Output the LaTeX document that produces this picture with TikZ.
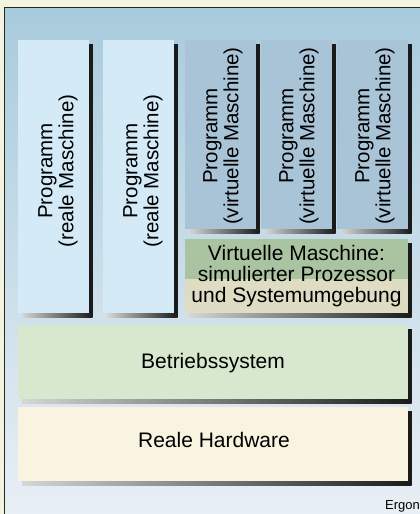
\documentclass[tikz,border=0pt]{standalone}
\usepackage{fontspec}
\setmainfont{Liberation Sans}
\usetikzlibrary{calc}

\definecolor{paper}{HTML}{F3F3E0}
\definecolor{frametop}{HTML}{A8CBDC}
\definecolor{framebottom}{HTML}{E8EFF5}
\definecolor{frameline}{HTML}{262626}
\definecolor{realprog}{HTML}{D4EAF7}
\definecolor{virtprog}{HTML}{A9C4D7}
\definecolor{vmgreen}{HTML}{AAC4A1}
\definecolor{vmbeige}{HTML}{DEDCC3}
\definecolor{ossys}{HTML}{D7E8CF}
\definecolor{hardware}{HTML}{F9F4DF}
\definecolor{shadowdark}{HTML}{1A1A1A}
\definecolor{shadowlight}{HTML}{D6D6D6}

\tikzset{
  layer/.style={rectangle, inner sep=0pt, outer sep=0pt, anchor=north west, draw=none},
  realbox/.style={layer, fill=realprog, minimum width=71pt, minimum height=273pt},
  virtbox/.style={layer, fill=virtprog, minimum width=71pt, minimum height=189pt},
  widebox/.style={layer, minimum width=390pt, minimum height=74pt},
  vlabel/.style={rotate=90, align=center, font=\fontsize{20.5}{21}\selectfont, inner sep=0pt},
  hlabel/.style={align=center, font=\fontsize{21}{21}\selectfont, inner sep=0pt},
}

% dark edge on the right, fading edge along the bottom
\newcommand\dropshadow[1]{%
  \fill[shadowdark] ($(#1.north east)+(0,4)$) rectangle ($(#1.south east)+(3.5,4)$);
  \shade[left color=shadowlight, right color=shadowdark]
    ($(#1.south west)+(4,0)$) rectangle ($(#1.south east)+(3.5,4)$);
}

\begin{document}
\begin{tikzpicture}[x=1pt, y=-1pt]
  \clip (0,0) rectangle (420,514);
  \fill[paper] (0,0) rectangle (420,514);

  % frame with vertical gradient
  \shade[top color=frametop, bottom color=framebottom] (4.6,7.6) rectangle (420,514);
  \draw[line width=1.3pt, frameline] (4.6,514) -- (4.6,7.6) -- (420,7.6);

  % programs on the real machine
  \node[realbox] (r1) at (18,40) {};
  \node[realbox] (r2) at (103,40) {};
  \dropshadow{r1}
  \dropshadow{r2}
  \node[vlabel] (r1t) at (58,171) {Programm\\(reale Maschine)};
  \node[vlabel] (r2t) at (143,171) {Programm\\(reale Maschine)};

  % programs on the virtual machine
  \node[virtbox] (v1) at (185,40) {};
  \node[virtbox] (v2) at (261,40) {};
  \node[virtbox] (v3) at (337,40) {};
  \dropshadow{v1}
  \dropshadow{v2}
  \dropshadow{v3}
  \node[vlabel] (v1t) at (223,136) {Programm\\(virtuelle Maschine)};
  \node[vlabel] (v2t) at (299,136) {Programm\\(virtuelle Maschine)};
  \node[vlabel] (v3t) at (375,136) {Programm\\(virtuelle Maschine)};

  % virtual machine layer
  \node[layer, fill=vmbeige, minimum width=223pt, minimum height=74pt] (vm) at (185,239) {};
  \fill[vmgreen] (vm.north west) rectangle ($(vm.north east)+(0,40)$);
  \dropshadow{vm}
  \node[hlabel] (vmt) at (296.5,276) {Virtuelle Maschine:\\simulierter Prozessor\\und Systemumgebung};

  % operating system and hardware
  \node[widebox, fill=ossys] (os) at (18,325) {};
  \dropshadow{os}
  \node[hlabel, anchor=base] (ost) at (213,368) {Betriebssystem};

  \node[widebox, fill=hardware] (hw) at (18,407) {};
  \dropshadow{hw}
  \node[hlabel, anchor=base] (hwt) at (214,447) {Reale Hardware};

  \node[anchor=base west, inner sep=0pt, font=\fontsize{13}{13}\selectfont] (src) at (385,509) {Ergon};
\end{tikzpicture}
\end{document}
